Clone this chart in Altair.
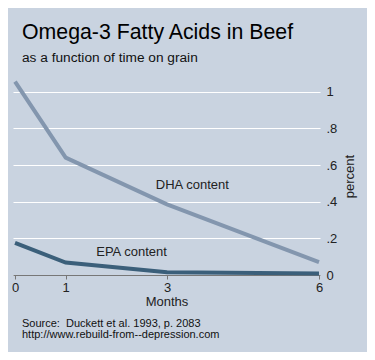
import altair as alt
import pandas as pd

months = [0, 1, 3, 6]
dha = [1.055, 0.64, 0.385, 0.07]
epa = [0.175, 0.068, 0.015, 0.008]

label_text = ["DHA content", "EPA content"]
label_x = [3.5, 2.3]
label_y = [0.49, 0.126]

title_text = "Omega-3 Fatty Acids in Beef"
subtitle_text = "as a function of time on grain"
source_lines = ["Source:\u00a0 Duckett et al. 1993, p. 2083",
                "http://www.rebuild-from--depression.com"]
y_ticks = [0, 0.2, 0.4, 0.6, 0.8, 1.0]

BG = "#c9d3e0"
DHA_COL = "#8396ae"
EPA_COL = "#3b5f7a"
FONT = "Liberation Sans"

df = pd.DataFrame({
    "month": months * 2,
    "value": dha + epa,
    "series": ["DHA"] * len(months) + ["EPA"] * len(months),
})
labels = pd.DataFrame({"text": label_text, "x": label_x, "y": label_y})

xscale = alt.Scale(domain=[-0.04, 6.02], nice=False, zero=False)
yscale = alt.Scale(domain=[0, 1.08], nice=False)

lines = alt.Chart(df).mark_line(strokeWidth=4, clip=False).encode(
    x=alt.X("month:Q", scale=xscale,
            axis=alt.Axis(title="Months", values=months, tickCount=10, grid=False,
                          labelFont=FONT, labelFontSize=13, labelColor="#222",
                          titleFont=FONT, titleFontSize=13, titleFontWeight="normal",
                          titleColor="#222", titlePadding=1, labelPadding=2,
                          domainColor="#777", tickColor="#777", tickSize=4,
                          format="d", labelFlush=False, labelOverlap=False)),
    y=alt.Y("value:Q", scale=yscale,
            axis=alt.Axis(orient="right", title="percent",
                          values=y_ticks, tickCount=10,
                          labelExpr="datum.value == 0 ? '0' : datum.value >= 1 ? '1' : '.' + round(datum.value * 10)",
                          grid=True, gridColor="white", gridWidth=1.2,
                          ticks=False, domain=False, labelOverlap=False,
                          labelFont=FONT, labelFontSize=13, labelColor="#222",
                          labelPadding=6,
                          titleFont=FONT, titleFontSize=13, titleFontWeight="normal",
                          titleColor="#222", titleAngle=270, titlePadding=20)),
    color=alt.Color("series:N", scale=alt.Scale(domain=["DHA", "EPA"],
                                                range=[DHA_COL, EPA_COL]),
                    legend=None),
)

series_labels = alt.Chart(labels).mark_text(
    font=FONT, fontSize=13, color="#222", align="center", baseline="middle"
).encode(x=alt.X("x:Q", scale=xscale), y=alt.Y("y:Q", scale=yscale), text="text:N")

title_df = pd.DataFrame({"text": [title_text]})
subtitle_df = pd.DataFrame({"text": [subtitle_text]})
source_df = pd.DataFrame({"text": source_lines, "row": [0, 1]})

title_mark = alt.Chart(title_df).mark_text(
    font=FONT, fontSize=21.3, color="black", align="left", baseline="alphabetic"
).encode(x=alt.value(9), y=alt.value(-38), text="text:N")

subtitle_mark = alt.Chart(subtitle_df).mark_text(
    font=FONT, fontSize=13.7, color="#111", align="left", baseline="alphabetic"
).encode(x=alt.value(9), y=alt.value(-15), text="text:N")

source_mark = alt.Chart(source_df).mark_text(
    font=FONT, fontSize=11, color="#111", align="left", baseline="alphabetic"
).encode(x=alt.value(9), y=alt.value(250), text="text:N") \
 .transform_filter("datum.row == 0")

source_mark2 = alt.Chart(source_df).mark_text(
    font=FONT, fontSize=11, color="#111", align="left", baseline="alphabetic"
).encode(x=alt.value(9), y=alt.value(261), text="text:N") \
 .transform_filter("datum.row == 1")

chart = alt.layer(lines, series_labels, title_mark, subtitle_mark,
                  source_mark, source_mark2).properties(
    width=307, height=198,
    background=BG,
    padding={"left": 5, "top": 69, "right": 47, "bottom": 77},
    autosize=alt.AutoSizeParams(type="none"),
).configure_view(stroke=None, fill=BG)

chart.save("out.html", embed_options={"renderer": "svg", "actions": False})
